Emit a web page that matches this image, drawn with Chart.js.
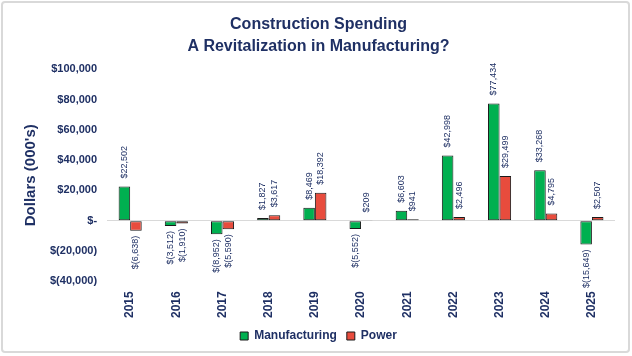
<!DOCTYPE html>
<html>
<head>
<meta charset="utf-8">
<script src="https://cdn.jsdelivr.net/npm/chart.js@4"></script>
<style>
html,body{margin:0;padding:0;background:#fff;}
#wrap{position:absolute;left:0;top:0;width:632px;height:356px;}
</style>
</head>
<body>
<div id="wrap"><canvas id="c" width="632" height="356"></canvas></div>
<script>
const categories = ['2015','2016','2017','2018','2019','2020','2021','2022','2023','2024','2025'];
const manufacturing = [22502, -3512, -8952, 1827, 8469, -5552, 6603, 42998, 77434, 33268, -15649];
const power = [-6638, -1910, -5590, 3617, 18392, 209, 941, 2496, 29499, 4795, 2507];
const yTicks = [100000, 80000, 60000, 40000, 20000, 0, -20000, -40000];

const NAVY = '#1F3064';
const FONT = '"Liberation Sans", Arial, sans-serif';

function fmt(v){
  if (v === 0) return '$-';
  const s = Math.abs(v).toLocaleString('en-US');
  return v < 0 ? '$(' + s + ')' : '$' + s;
}

const frame = {
  id: 'frame',
  beforeDraw(chart){
    const c = chart.ctx;
    c.save();
    c.fillStyle = '#fff';
    c.fillRect(0,0,chart.width,chart.height);
    c.strokeStyle = '#d9d9d9';
    c.lineWidth = 2;
    c.beginPath();
    if (c.roundRect) c.roundRect(2,2,627,350,3); else c.rect(2,2,627,350);
    c.stroke();
    c.restore();
  }
};

const labels = {
  id: 'barLabels',
  afterDatasetsDraw(chart){
    const c = chart.ctx;
    c.save();
    c.font = '9px ' + FONT;
    c.fillStyle = NAVY;
    c.textBaseline = 'middle';
    chart.data.datasets.forEach((ds, di) => {
      const meta = chart.getDatasetMeta(di);
      meta.data.forEach((bar, i) => {
        const v = ds.data[i];
        c.save();
        if (v >= 0) {
          c.translate(bar.x, bar.y - 8);
          c.rotate(-Math.PI/2);
          c.textAlign = 'left';
        } else {
          c.translate(bar.x, bar.y + 5);
          c.rotate(-Math.PI/2);
          c.textAlign = 'right';
        }
        c.fillText(fmt(v), 0, 0);
        c.restore();
      });
    });
    c.restore();
  }
};

new Chart(document.getElementById('c'), {
  type: 'bar',
  data: {
    labels: categories,
    datasets: [
      { label: 'Manufacturing', data: manufacturing, backgroundColor: '#00B050', borderColor: '#1a1a1a', borderWidth: 1, borderSkipped: false, categoryPercentage: 0.5, barPercentage: 1.0 },
      { label: 'Power', data: power, backgroundColor: '#E84C3D', borderColor: '#1a1a1a', borderWidth: 1, borderSkipped: false, categoryPercentage: 0.5, barPercentage: 1.0 }
    ]
  },
  options: {
    responsive: false,
    animation: false,
    devicePixelRatio: 1,
    layout: { padding: { top: 14, left: 22, right: 17, bottom: 4 } },
    plugins: {
      title: {
        display: true,
        text: ['Construction Spending', 'A Revitalization in Manufacturing?'],
        color: NAVY,
        font: { family: FONT, size: 16, weight: 'bold', lineHeight: 1.35 },
        padding: { top: 0, bottom: 12 }
      },
      legend: {
        position: 'bottom',
        labels: {
          color: NAVY,
          font: { family: FONT, size: 12, weight: 'bold' },
          boxWidth: 8, boxHeight: 8, padding: 10,
          generateLabels(chart){
            return chart.data.datasets.map((d, i) => ({
              text: d.label, fillStyle: d.backgroundColor, strokeStyle: '#1a1a1a', lineWidth: 1,
              fontColor: NAVY, datasetIndex: i, hidden: false
            }));
          }
        }
      },
      tooltip: { enabled: false }
    },
    scales: {
      x: {
        grid: { display: false },
        border: { display: false },
        ticks: { color: NAVY, font: { family: FONT, size: 12, weight: 'bold' }, maxRotation: 90, minRotation: 90, padding: 2 }
      },
      y: {
        min: -40000, max: 100000,
        afterBuildTicks(axis){ axis.ticks = yTicks.map(v => ({ value: v })); },
        grid: { color: ctx => (ctx.tick && ctx.tick.value === 0) ? '#d9d9d9' : 'rgba(0,0,0,0)', drawTicks: false, lineWidth: 1 },
        border: { display: false },
        ticks: { color: NAVY, font: { family: FONT, size: 11, weight: 'bold' }, padding: 10, callback: v => fmt(v) },
        title: { display: true, text: "Dollars (000's)", color: NAVY, font: { family: FONT, size: 15, weight: 'bold' }, padding: { top: 0, bottom: 0 } }
      }
    }
  },
  plugins: [frame, labels]
});
</script>
</body>
</html>
